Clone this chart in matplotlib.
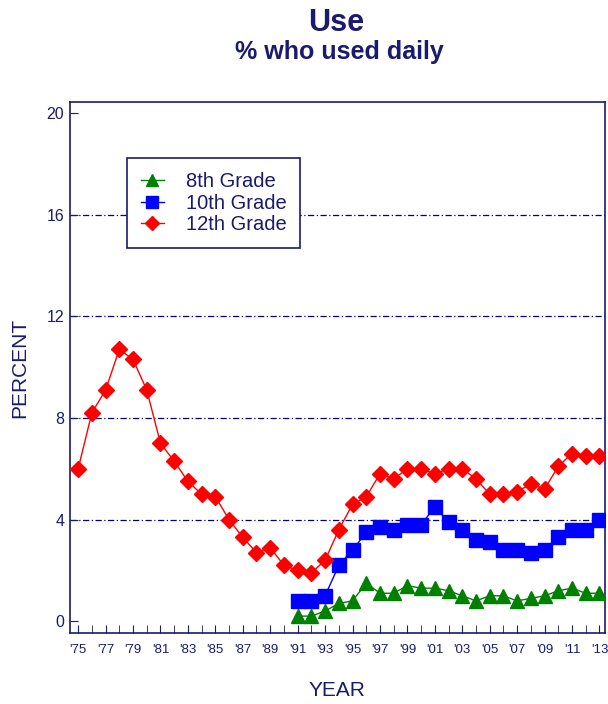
import matplotlib
matplotlib.use("Agg")
import matplotlib.pyplot as plt
import numpy as np
from matplotlib.ticker import MultipleLocator
from matplotlib.legend_handler import HandlerLine2D

plt.rcParams['font.family'] = ['Liberation Sans', 'DejaVu Sans']

navy = "#1a1a6e"

# dados
anos_12 = list(range(1975, 2014))
grade12 = [6.0, 8.2, 9.1, 10.7, 10.3, 9.1, 7.0, 6.3, 5.5, 5.0,
           4.9, 4.0, 3.3, 2.7, 2.9, 2.2, 2.0, 1.9, 2.4, 3.6,
           4.6, 4.9, 5.8, 5.6, 6.0, 6.0, 5.8, 6.0, 6.0, 5.6,
           5.0, 5.0, 5.1, 5.4, 5.2, 6.1, 6.6, 6.5, 6.5]

anos = list(range(1991, 2014))
grade10 = [0.8, 0.8, 1.0, 2.2, 2.8, 3.5, 3.7, 3.6, 3.8, 3.8,
           4.5, 3.9, 3.6, 3.2, 3.1, 2.8, 2.8, 2.7, 2.8, 3.3,
           3.6, 3.6, 4.0]
grade8 = [0.2, 0.2, 0.4, 0.7, 0.8, 1.5, 1.1, 1.1, 1.4, 1.3,
          1.3, 1.2, 1.0, 0.8, 1.0, 1.0, 0.8, 0.9, 1.0, 1.2,
          1.3, 1.1, 1.1]

rotulos_x = ["'%02d" % (a % 100) for a in range(1975, 2014, 2)]


## legenda: linha curta com o marcador na ponta ##
class MarcadorNaPonta(HandlerLine2D):
    def get_xdata(self, legend, xdescent, ydescent, width, height, fontsize):
        xdata = np.array([-xdescent, -xdescent + width * 0.85])
        return xdata, np.array([-xdescent + width * 0.85])


fig = plt.figure(figsize=(6.08, 7.04), dpi=100)
ax = fig.add_axes([0.115, 0.101, 0.88, 0.754])

## linhas de grade ##
for v in [4, 8, 12, 16]:
    ax.axhline(v, color="#000080", lw=0.9, ls=(0, (5, 2, 1, 2)), zorder=1)

ax.plot(anos, grade8, color="#008000", lw=1, marker="^", ms=10,
        label="8th Grade", zorder=3)
ax.plot(anos, grade10, color="#0000ff", lw=1, marker="s", ms=9.5,
        label="10th Grade", zorder=3)
ax.plot(anos_12, grade12, color="#ff0000", lw=1, marker="D", ms=8.5,
        label="12th Grade", zorder=3)

ax.set_xlim(1974.4, 2013.4)
ax.set_ylim(-0.46, 20.43)
ax.set_yticks([0, 4, 8, 12, 16, 20])
ax.set_xticks(range(1975, 2014, 2))
ax.set_xticklabels(rotulos_x)
ax.xaxis.set_minor_locator(MultipleLocator(1))

ax.tick_params(axis="both", which="both", direction="in", color=navy,
               labelcolor=navy)
ax.tick_params(axis="x", which="both", length=6, labelsize=9.5, pad=8)
ax.tick_params(axis="y", length=6, labelsize=11.5, pad=4)
for s in ax.spines.values():
    s.set_color(navy)
    s.set_linewidth(1.2)

ax.set_ylabel("PERCENT", color=navy, fontsize=15, labelpad=12.5)
ax.set_xlabel("YEAR", color=navy, fontsize=15, labelpad=18)

leg = ax.legend(loc="upper left", bbox_to_anchor=(0.107, 0.894),
                borderaxespad=0, fontsize=14.5, handlelength=1.3,
                handletextpad=0.9, labelspacing=0.12, fancybox=False,
                framealpha=1, borderpad=0.7, markerscale=0.85,
                handler_map={plt.Line2D: MarcadorNaPonta()})
leg.get_frame().set_edgecolor(navy)
leg.get_frame().set_linewidth(1.2)
for t in leg.get_texts():
    t.set_color(navy)

fig.text(0.553, 0.968, "Use", ha="center", va="center", color=navy,
         fontsize=22, fontweight="bold")
fig.text(0.558, 0.926, "% who used daily", ha="center", va="center",
         color=navy, fontsize=18, fontweight="bold")

fig.savefig("out.png", dpi=100)
